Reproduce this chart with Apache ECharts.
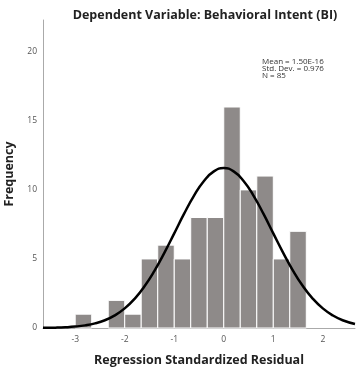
<!DOCTYPE html>
<html>
<head>
<meta charset="utf-8">
<script src="https://cdn.jsdelivr.net/npm/echarts@6/dist/echarts.min.js"></script>
<style>
  html, body { margin: 0; padding: 0; background: #fff; }
  #chart { width: 360px; height: 369px; }
</style>
</head>
<body>
<div id="chart"></div>
<script>
// histogram bins (left edge) and counts
const binStarts = [-3, -2.667, -2.333, -2, -1.667, -1.333, -1, -0.667, -0.333, 0, 0.333, 0.667, 1, 1.333];
const counts = [1, 0, 2, 1, 5, 6, 5, 8, 8, 16, 10, 11, 5, 7];
const binWidth = 1 / 3;

// fitted normal curve
const curveX = [-3.65, -3.4, -3.2, -3.0, -2.8, -2.6, -2.4, -2.2, -2.0, -1.8, -1.6, -1.4, -1.2, -1.0, -0.8, -0.6, -0.4, -0.2,
  0, 0.2, 0.4, 0.6, 0.8, 1.0, 1.2, 1.4, 1.6, 1.8, 2.0, 2.2, 2.4, 2.65];
const curveY = [0.011, 0.027, 0.054, 0.103, 0.189, 0.333, 0.563, 0.913, 1.419, 2.114, 3.021, 4.139, 5.438, 6.851, 8.276, 9.586, 10.647, 11.339,
  11.58, 11.339, 10.647, 9.586, 8.276, 6.851, 5.438, 4.139, 3.021, 2.114, 1.419, 0.913, 0.563, 0.295];

const statLines = ['Mean = 1.50E-16', 'Std. Dev. = 0.976', 'N = 85'];

const chart = echarts.init(document.getElementById('chart'));

const font = '"Open Sans", "Liberation Sans", sans-serif';

chart.setOption({
  animation: false,
  title: {
    text: 'Dependent Variable: Behavioral Intent (BI)',
    left: 200,
    textAlign: 'center',
    top: 4,
    textStyle: { fontFamily: font, fontSize: 12.5, fontWeight: 'bold', color: '#222' }
  },
  grid: { left: 43, right: 5, top: 20, bottom: 41, outerBoundsMode: 'none' },
  xAxis: {
    type: 'value',
    min: -3.65,
    max: 2.65,
    name: 'Regression Standardized Residual',
    nameLocation: 'middle',
    nameGap: 26,
    nameTextStyle: { fontFamily: font, fontSize: 12.5, fontWeight: 'bold', color: '#222' },
    axisLine: { onZero: false, lineStyle: { color: '#aaa', width: 1 } },
    axisTick: { show: false },
    splitLine: { show: false },
    axisLabel: {
      fontFamily: font, fontSize: 8.5, color: '#555', margin: 7,
      showMinLabel: false, showMaxLabel: false,
      formatter: v => (Number.isInteger(v) ? String(v) : '')
    }
  },
  yAxis: {
    type: 'value',
    min: 0,
    max: 22.3,
    interval: 5,
    name: 'Frequency',
    nameLocation: 'middle',
    nameGap: 24,
    nameTextStyle: { fontFamily: font, fontSize: 12.5, fontWeight: 'bold', color: '#222' },
    axisLine: { show: true, onZero: false, lineStyle: { color: '#aaa', width: 1 } },
    axisTick: { show: false },
    splitLine: { show: false },
    axisLabel: { fontFamily: font, fontSize: 8.5, color: '#555', margin: 6, showMaxLabel: false }
  },
  graphic: [{
    type: 'text',
    left: 262,
    top: 58,
    style: {
      text: statLines.join('\n'),
      font: '8px ' + font,
      lineHeight: 7,
      fill: '#333'
    }
  }],
  series: [
    {
      type: 'custom',
      renderItem: (params, api) => {
        const x0 = api.value(0);
        const h = api.value(1);
        if (!h) return null;
        const p0 = api.coord([x0, 0]);
        const p1 = api.coord([x0 + binWidth, h]);
        return {
          type: 'rect',
          shape: { x: p0[0], y: p1[1], width: p1[0] - p0[0], height: p0[1] - p1[1] },
          style: { fill: '#8e8a89', stroke: '#fff', lineWidth: 1 }
        };
      },
      encode: { x: 0, y: 1 },
      data: binStarts.map((b, i) => [b, counts[i]]),
      z: 1
    },
    {
      type: 'line',
      smooth: true,
      showSymbol: false,
      data: curveX.map((x, i) => [x, curveY[i]]),
      lineStyle: { color: '#000', width: 2.5 },
      z: 3
    }
  ]
});
</script>
</body>
</html>
